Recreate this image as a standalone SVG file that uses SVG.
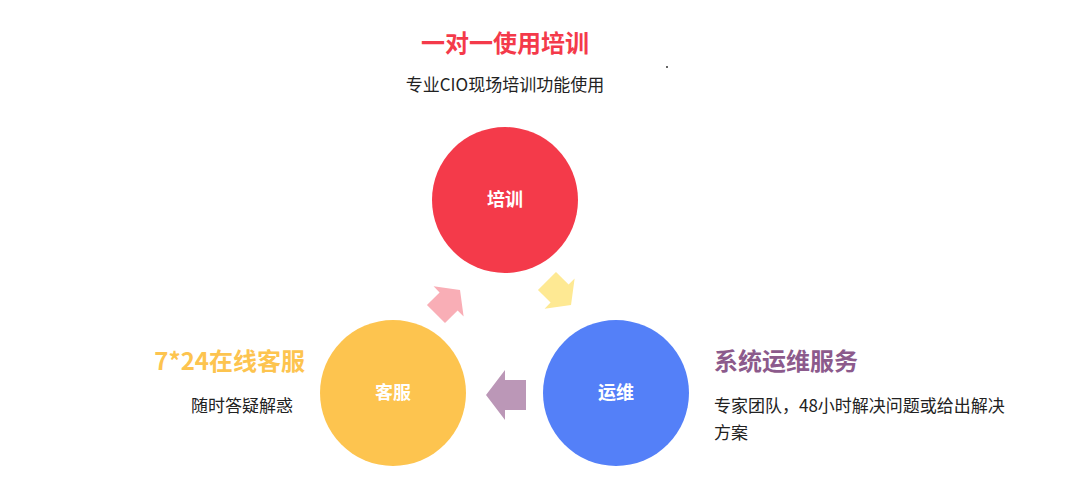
<svg xmlns="http://www.w3.org/2000/svg" width="1080" height="500" viewBox="0 0 1080 500">
<style>
text{font-family:"Noto Sans CJK SC","Noto Sans",sans-serif}
.h{font-size:24px;font-weight:bold}
.t{font-size:17px;fill:#222}
.c{font-size:18px;font-weight:bold;fill:#fff;text-anchor:middle}
</style>
<defs><path id="arr" d="M-20,0 L-1,-25 L-1,-15 L20,-15 L20,15 L-1,15 L-1,25 Z"/></defs>
<rect width="1080" height="500" fill="#fff"/>
<g id="top">
<text class="h" x="505" y="52" text-anchor="middle" fill="#F43A4A">一对一使用培训</text>
<text class="t" x="505" y="91" text-anchor="middle">专业CIO现场培训功能使用</text>
<circle cx="667" cy="67" r="1" fill="#333"/>
</g>
<g id="n-train"><circle cx="505" cy="200" r="73" fill="#F43A4A"/><text class="c" x="505" y="206">培训</text></g>
<g id="n-service"><circle cx="393" cy="393" r="73" fill="#FDC44F"/><text class="c" x="393" y="399">客服</text></g>
<g id="n-ops"><circle cx="616" cy="393" r="73" fill="#5480F8"/><text class="c" x="616" y="399">运维</text></g>
<g id="left">
<text class="h" x="305" y="370" text-anchor="end" fill="#FDC44F">7*24在线客服</text>
<text class="t" x="293" y="412" text-anchor="end">随时答疑解惑</text>
</g>
<g id="right">
<text class="h" x="714" y="370" fill="#8C5A8C">系统运维服务</text>
<text class="t" x="714" y="412">专家团队，48小时解决问题或给出解决</text>
<text class="t" x="714" y="439">方案</text>
</g>
<g id="connectors">
<use href="#arr" transform="translate(448,302) rotate(135) scale(0.85)" fill="#F9AEB6"/>
<use href="#arr" transform="translate(559,293) rotate(225) scale(0.85)" fill="#FEE993"/>
<use href="#arr" transform="translate(506,395)" fill="#BB97B7"/>
</g>
</svg>
